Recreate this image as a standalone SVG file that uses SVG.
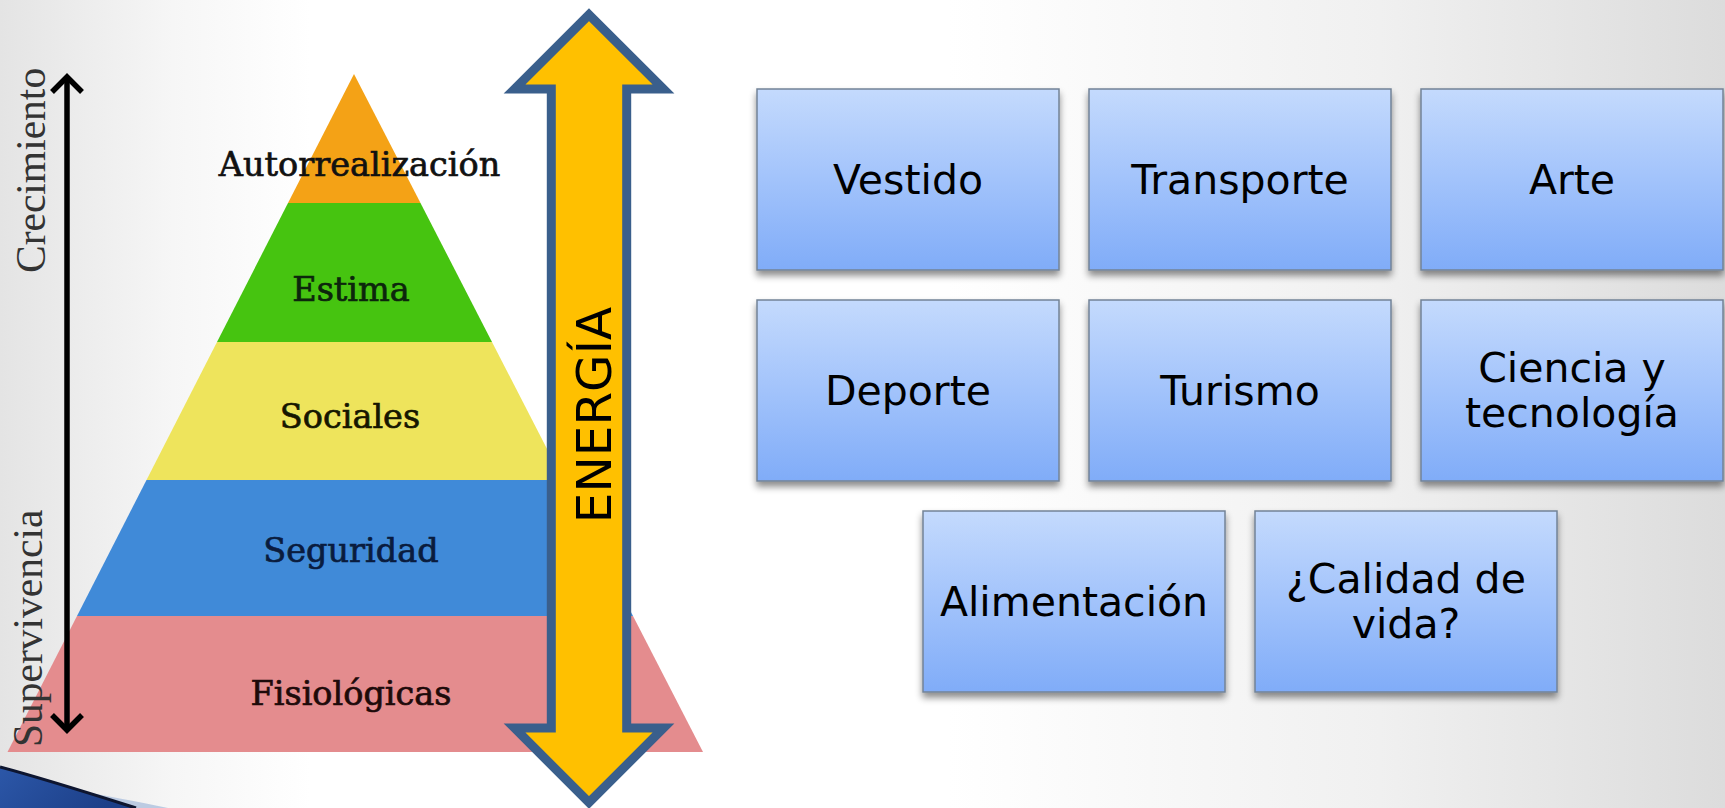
<svg xmlns="http://www.w3.org/2000/svg" width="1725" height="808" viewBox="0 0 1725 808">
  <defs>
    <linearGradient id="bg" x1="0" y1="0" x2="1" y2="0">
      <stop offset="0" stop-color="#e4e4e4"/>
      <stop offset="0.1" stop-color="#f6f6f6"/>
      <stop offset="0.18" stop-color="#ffffff"/>
      <stop offset="0.55" stop-color="#ffffff"/>
      <stop offset="0.8" stop-color="#f0f0f0"/>
      <stop offset="1" stop-color="#dcdcdc"/>
    </linearGradient>
    <linearGradient id="boxFill" x1="0" y1="0" x2="0" y2="1">
      <stop offset="0" stop-color="#c4dafd"/>
      <stop offset="0.5" stop-color="#a2c3fb"/>
      <stop offset="1" stop-color="#80acf8"/>
    </linearGradient>
    <linearGradient id="swoosh" x1="0" y1="0" x2="1" y2="0.3">
      <stop offset="0" stop-color="#2c57a8"/>
      <stop offset="1" stop-color="#1c3f88"/>
    </linearGradient>
    <filter id="shadow" x="-10%" y="-10%" width="120%" height="125%">
      <feDropShadow dx="0" dy="5" stdDeviation="3.5" flood-color="#000" flood-opacity="0.45"/>
    </filter>
  </defs>
  <style>
    .box { fill: url(#boxFill); stroke: #738396; stroke-width: 1.5; filter: url(#shadow); }
    .lbl { font-family: "DejaVu Sans", Verdana, sans-serif; font-size: 41px; fill: #000; text-anchor: middle; }
    .pyr { font-family: "DejaVu Serif", "Liberation Serif", serif; font-size: 33.5px; text-anchor: middle; stroke-width: 0.7; }
    .side { font-family: "Liberation Serif", "Times New Roman", serif; font-size: 41.5px; fill: #333; }
    .blk { fill: none; stroke: #000; stroke-width: 5.5; }
  </style>

  <rect x="0" y="0" width="1725" height="808" fill="url(#bg)"/>

  <!-- bottom-left decorative swoosh -->
  <g id="swoosh-deco">
    <path d="M60,787 C100,795 140,802 168,808 L136,808 C95,795 45,779 0,767 Z" fill="#bccbe2"/>
    <path d="M0,767 C45,779 95,795 136,808 L0,808 Z" fill="url(#swoosh)"/>
    <path d="M0,767 C45,779 95,795 136,808" fill="none" stroke="#0e1630" stroke-width="3"/>
  </g>

  <!-- pyramid -->
  <g id="pyramid">
    <g id="band-fisiologicas">
      <polygon points="77,616 633,616 703,752 7.5,752" fill="#e48c8e"/>
      <text class="pyr" x="351" y="705" fill="#1e0a0a" stroke="#1e0a0a">Fisiológicas</text>
    </g>
    <g id="band-seguridad">
      <polygon points="146.5,480 563,480 633,616 77,616" fill="#408ad8"/>
      <text class="pyr" x="351" y="562" fill="#0a1c3e" stroke="#0a1c3e">Seguridad</text>
    </g>
    <g id="band-sociales">
      <polygon points="217,342 492,342 563,480 146.5,480" fill="#eee45c"/>
      <text class="pyr" x="350" y="428" fill="#161600" stroke="#161600">Sociales</text>
    </g>
    <g id="band-estima">
      <polygon points="288,203 420.5,203 492,342 217,342" fill="#46c410"/>
      <text class="pyr" x="351" y="301" fill="#0c260c" stroke="#0c260c">Estima</text>
    </g>
    <g id="band-autorrealizacion">
      <polygon points="354,74 420.5,203 288,203" fill="#f4a216"/>
      <text class="pyr" x="359.5" y="176" fill="#111" stroke="#111">Autorrealización</text>
    </g>
  </g>

  <!-- side labels -->
  <g id="label-crecimiento">
    <text class="side" transform="translate(45,273) rotate(-90)">Crecimiento</text>
  </g>
  <g id="label-supervivencia">
    <text class="side" transform="translate(42,747) rotate(-90)">Supervivencia</text>
  </g>

  <!-- connectors -->
  <g id="connectors">
    <line class="blk" x1="67" y1="78" x2="67" y2="728"/>
    <polyline class="blk" points="52,92 67,77 82,92"/>
    <polyline class="blk" points="52,715 67,730 82,715"/>
  </g>

  <!-- energy double arrow -->
  <g id="energia">
    <path d="M589,14.7 L663.5,89 L626.7,89 L626.7,728 L663.5,728 L589,802.5 L514.5,728 L551.3,728 L551.3,89 L514.5,89 Z"
          fill="#ffc000" stroke="#3a5f8c" stroke-width="9" stroke-linejoin="miter"/>
    <text transform="translate(610.5,415) rotate(-90)" font-family="DejaVu Sans, Verdana, sans-serif" font-size="48.5" text-anchor="middle" fill="#000">ENERGÍA</text>
  </g>

  <!-- boxes -->
  <g id="vestido">
    <rect class="box" x="757" y="89" width="302" height="181"/>
    <text class="lbl" x="908" y="193.5">Vestido</text>
  </g>
  <g id="transporte">
    <rect class="box" x="1089" y="89" width="302" height="181"/>
    <text class="lbl" x="1240" y="193.5">Transporte</text>
  </g>
  <g id="arte">
    <rect class="box" x="1421" y="89" width="302" height="181"/>
    <text class="lbl" x="1572" y="193.5">Arte</text>
  </g>
  <g id="deporte">
    <rect class="box" x="757" y="300" width="302" height="181"/>
    <text class="lbl" x="908" y="404.5">Deporte</text>
  </g>
  <g id="turismo">
    <rect class="box" x="1089" y="300" width="302" height="181"/>
    <text class="lbl" x="1240" y="404.5">Turismo</text>
  </g>
  <g id="ciencia">
    <rect class="box" x="1421" y="300" width="302" height="181"/>
    <text class="lbl" x="1572" y="382">Ciencia y</text>
    <text class="lbl" x="1572" y="427">tecnología</text>
  </g>
  <g id="alimentacion">
    <rect class="box" x="923" y="511" width="302" height="181"/>
    <text class="lbl" x="1074" y="615.5">Alimentación</text>
  </g>
  <g id="calidad">
    <rect class="box" x="1255" y="511" width="302" height="181"/>
    <text class="lbl" x="1406" y="593">¿Calidad de</text>
    <text class="lbl" x="1406" y="638">vida?</text>
  </g>
</svg>
